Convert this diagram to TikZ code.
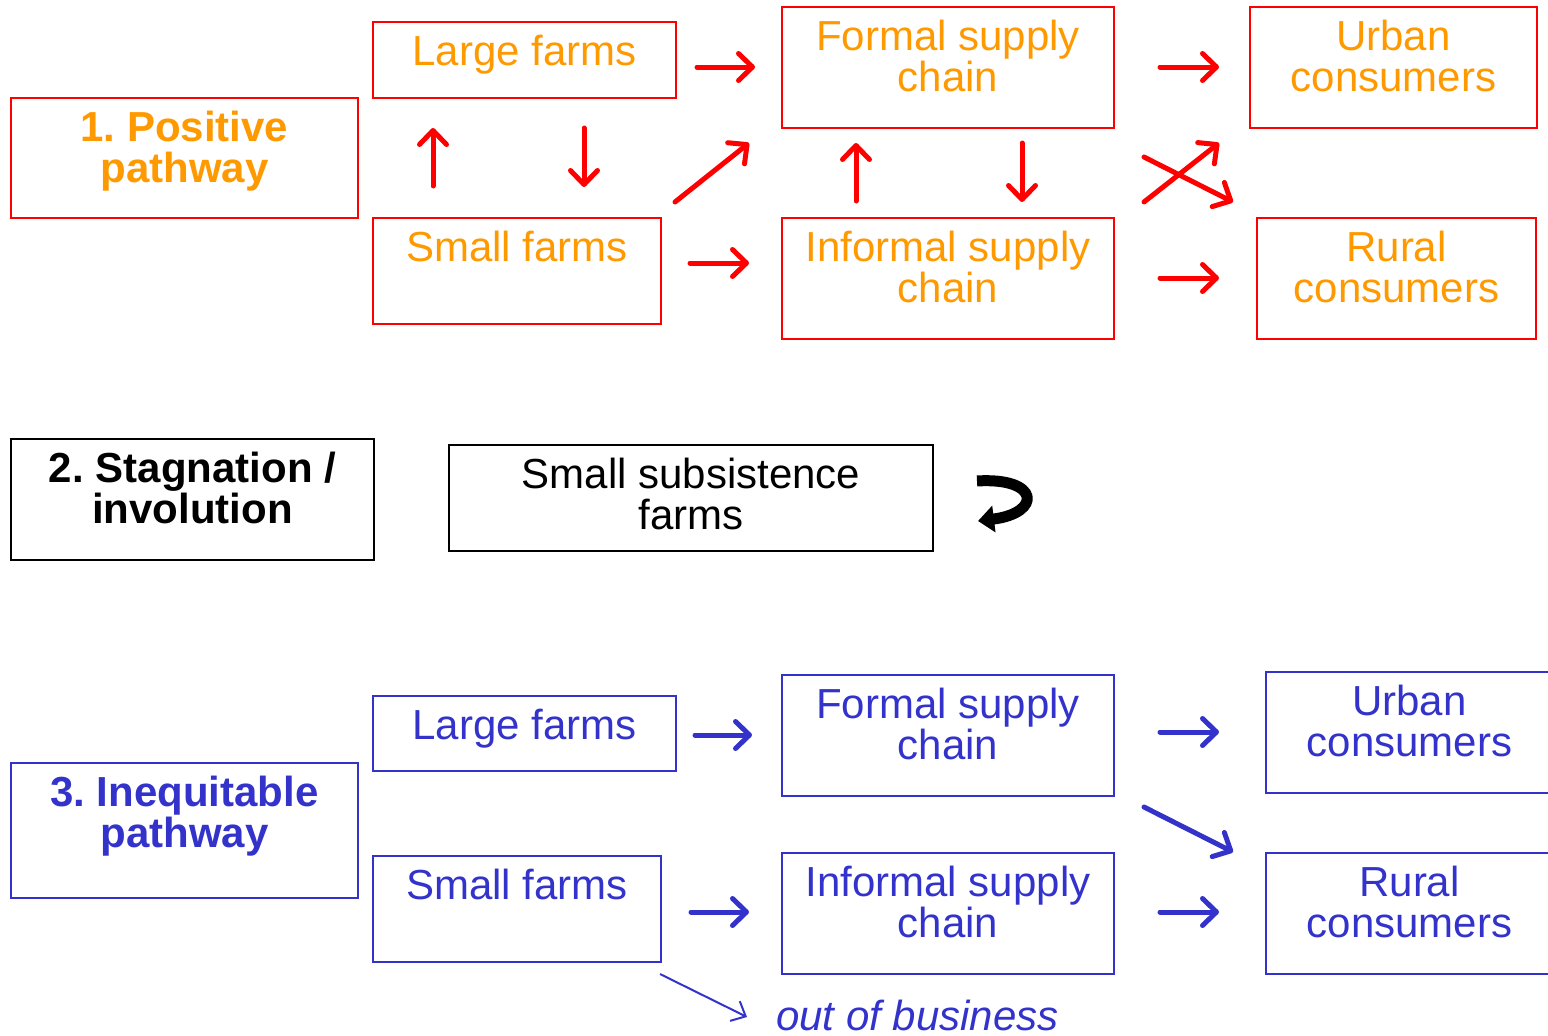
\documentclass[tikz,border=0pt]{standalone}
\usepackage{fontspec}
\setmainfont{Liberation Sans}
\usetikzlibrary{arrows.meta}
\frenchspacing
\definecolor{myred}{HTML}{FF0000}
\definecolor{myorange}{HTML}{FF9900}
\definecolor{myblue}{HTML}{3333CC}
\newcommand\tstrut{\rule{0pt}{32pt}}
\tikzset{
  bx/.style={draw, line width=2pt, inner sep=0pt, anchor=north west},
  rbox/.style={bx, draw=myred},
  kbox/.style={bx, draw=black},
  bbox/.style={bx, draw=myblue},
  txt/.style={inner sep=0pt, anchor=north, align=center, font=\fontsize{42}{41}\selectfont},
  otxt/.style={txt, text=myorange},
  ktxt/.style={txt, text=black},
  btxt/.style={txt, text=myblue},
  arr/.style={line width=5pt, line cap=round, -{Straight Barb[length=14pt,width=27pt,round]}},
  rarr/.style={arr, draw=myred},
  barr/.style={arr, draw=myblue},
}
\begin{document}
\begin{tikzpicture}[x=1pt,y=-1pt]
\useasboundingbox (0,0) rectangle (1548,1036);
\clip (0,0) rectangle (1548,1036);

% ---------- Section 1 ----------
\node[rbox, minimum width=347pt, minimum height=120pt] (p1) at (10,97) {};
\node[otxt, font=\fontsize{42}{41}\selectfont\bfseries] (p1t) at ([yshift=-12.5pt]p1.north) {\tstrut 1. Positive\\pathway};

\node[rbox, minimum width=303pt, minimum height=76pt] (lf1) at (372,21) {};
\node[otxt] (lf1t) at ([yshift=-12.5pt]lf1.north) {\tstrut Large farms};

\node[rbox, minimum width=288pt, minimum height=106pt] (sf1) at (372,217) {};
\node[otxt] (sf1t) at ([yshift=-12.5pt]sf1.north) {\tstrut Small farms};

\node[rbox, minimum width=332pt, minimum height=121pt] (fs1) at (781,6) {};
\node[otxt] (fs1t) at ([yshift=-12.5pt]fs1.north) {\tstrut Formal supply\\chain};

\node[rbox, minimum width=332pt, minimum height=121pt] (is1) at (781,217) {};
\node[otxt] (is1t) at ([yshift=-12.5pt]is1.north) {\tstrut Informal supply\\chain};

\node[rbox, minimum width=287pt, minimum height=121pt] (u1) at (1249,6) {};
\node[otxt] (u1t) at ([yshift=-12.5pt]u1.north) {\tstrut Urban\\consumers};

\node[rbox, minimum width=279pt, minimum height=121pt] (r1) at (1256,217) {};
\node[otxt] (r1t) at ([yshift=-12.5pt]r1.north) {\tstrut Rural\\consumers};

\coordinate (a1s) at (697,67);   \coordinate (a1e) at (755,67);
\coordinate (a2s) at (690,263);  \coordinate (a2e) at (749,263);
\coordinate (a3s) at (675,202);  \coordinate (a3e) at (749,143);
\coordinate (a4s) at (433,186);  \coordinate (a4e) at (433,128);
\coordinate (a5s) at (584,128);  \coordinate (a5e) at (584,187);
\coordinate (a6s) at (856,201);  \coordinate (a6e) at (856,143);
\coordinate (a7s) at (1022,143); \coordinate (a7e) at (1022,202);
\coordinate (a8s) at (1160,67);  \coordinate (a8e) at (1219,67);
\coordinate (a9s) at (1160,278); \coordinate (a9e) at (1219,278);
\coordinate (a10s) at (1144,202); \coordinate (a10e) at (1219,143);
\coordinate (a11s) at (1144,157); \coordinate (a11e) at (1233,202);
\foreach \i in {1,...,11} {\draw[rarr] (a\i s) -- (a\i e);}

% ---------- Section 2 ----------
\node[kbox, minimum width=363pt, minimum height=121pt] (p2) at (10,438) {};
\node[ktxt, font=\fontsize{42}{41}\selectfont\bfseries] (p2t) at ([yshift=-12.5pt]p2.north) {\tstrut 2. Stagnation /\\involution};

\node[kbox, minimum width=484pt, minimum height=106pt] (ssf) at (448,444) {};
\node[ktxt] (ssft) at ([yshift=-12.5pt]ssf.north) {\tstrut Small subsistence\\farms};

\coordinate (cs) at (977,481);
\coordinate (ce) at (978,521);
\draw[line width=11pt, -{Triangle[length=16pt,width=26pt]}] (cs) .. controls (1040,477) and (1042,513) .. (ce);

% ---------- Section 3 ----------
\node[bbox, minimum width=347pt, minimum height=135pt] (p3) at (10,762) {};
\node[btxt, font=\fontsize{42}{41}\selectfont\bfseries] (p3t) at ([yshift=-12.5pt]p3.north) {\tstrut 3. Inequitable\\pathway};

\node[bbox, minimum width=303pt, minimum height=75pt] (lf3) at (372,695) {};
\node[btxt] (lf3t) at ([yshift=-12.5pt]lf3.north) {\tstrut Large farms};

\node[bbox, minimum width=288pt, minimum height=106pt] (sf3) at (372,855) {};
\node[btxt] (sf3t) at ([yshift=-12.5pt]sf3.north) {\tstrut Small farms};

\node[bbox, minimum width=332pt, minimum height=121pt] (fs3) at (781,674) {};
\node[btxt] (fs3t) at ([yshift=-12.5pt]fs3.north) {\tstrut Formal supply\\chain};

\node[bbox, minimum width=332pt, minimum height=121pt] (is3) at (781,852) {};
\node[btxt] (is3t) at ([yshift=-12.5pt]is3.north) {\tstrut Informal supply\\chain};

\node[bbox, minimum width=287pt, minimum height=121pt] (u3) at (1265,671) {};
\node[btxt] (u3t) at ([yshift=-12.5pt]u3.north) {\tstrut Urban\\consumers};

\node[bbox, minimum width=287pt, minimum height=121pt] (r3) at (1265,852) {};
\node[btxt] (r3t) at ([yshift=-12.5pt]r3.north) {\tstrut Rural\\consumers};

\coordinate (b1s) at (695,735);  \coordinate (b1e) at (752,735);
\coordinate (b2s) at (691,912);  \coordinate (b2e) at (749,912);
\coordinate (b3s) at (1160,732); \coordinate (b3e) at (1219,732);
\coordinate (b4s) at (1160,912); \coordinate (b4e) at (1219,912);
\coordinate (b5s) at (1144,807); \coordinate (b5e) at (1233,852);
\foreach \i in {1,...,5} {\draw[barr] (b\i s) -- (b\i e);}

\coordinate (b6s) at (660,974); \coordinate (b6e) at (747,1017);
\draw[draw=myblue, line width=2pt, -{Straight Barb[length=12pt,width=22pt]}] (b6s) -- (b6e);
\node[inner sep=0pt, anchor=base west, text=myblue, font=\fontsize{42}{41}\selectfont\itshape] (oob) at (776,1030) {out of business};
\end{tikzpicture}
\end{document}
